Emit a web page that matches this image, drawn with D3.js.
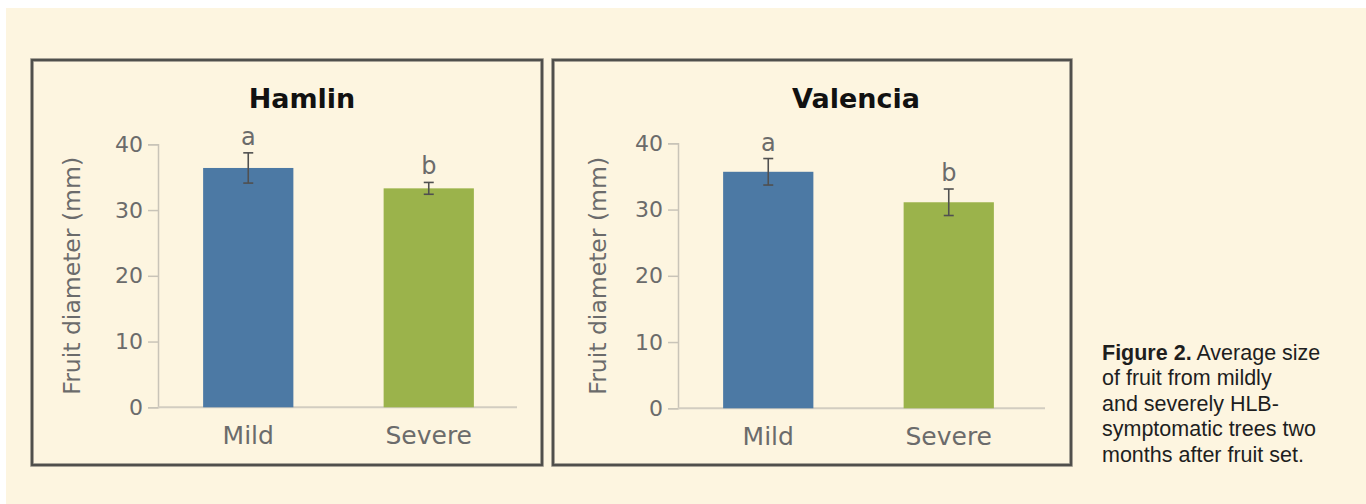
<!DOCTYPE html>
<html>
<head>
<meta charset="utf-8">
<script src="https://cdn.jsdelivr.net/npm/d3@7"></script>
<style>
  body { margin: 0; background: #fff; }
  #vis { width: 1366px; height: 504px; }
</style>
</head>
<body>
<div id="vis"></div>
<script>
const W = 1366, H = 504;

// data
const cultivars = ['Hamlin', 'Valencia'];
const categories = ['Mild', 'Severe'];
const hamlinMeans = [36.4, 33.3];
const hamlinErrors = [2.3, 0.9];
const valenciaMeans = [35.7, 31.1];
const valenciaErrors = [2.0, 2.0];
const letters = ['a', 'b'];
const yTicks = [0, 10, 20, 30, 40];
const yLabel = 'Fruit diameter (mm)';
const captionBold = 'Figure 2.';
const captionLines = [' Average size', 'of fruit from mildly', 'and severely HLB-', 'symptomatic trees two', 'months after fruit set.'];

const barColors = ['#4c79a4', '#9bb34b'];

// panel layout (pixels)
const panels = [
    { name: cultivars[0], means: hamlinMeans, errors: hamlinErrors,
      frame: [32, 60, 542, 465], axisX: 158, axisEnd: 517, y0: 407.3, y40: 144.3,
      titleX: 302, labelX: 72 },
    { name: cultivars[1], means: valenciaMeans, errors: valenciaErrors,
      frame: [553, 60, 1071, 465], axisX: 678, axisEnd: 1045, y0: 408.3, y40: 143.3,
      titleX: 856, labelX: 598 }
];

const svg = d3.select('#vis')
    .append('svg')
    .attr('width', W)
    .attr('height', H)
    .style('font-family', '"DejaVu Sans", sans-serif');

// cream page (white strip on top and left like the scan)
svg.append('rect')
    .attr('x', 6).attr('y', 8)
    .attr('width', W - 6).attr('height', H - 8)
    .attr('fill', '#fdf5e0');

function drawPanel(p){
    const g = svg.append('g');

    // frame
    g.append('rect')
        .attr('x', p.frame[0]).attr('y', p.frame[1])
        .attr('width', p.frame[2] - p.frame[0])
        .attr('height', p.frame[3] - p.frame[1])
        .attr('fill', 'none')
        .attr('stroke', '#8a877f')
        .attr('stroke-width', 3.5);
    g.append('rect')
        .attr('x', p.frame[0]).attr('y', p.frame[1])
        .attr('width', p.frame[2] - p.frame[0])
        .attr('height', p.frame[3] - p.frame[1])
        .attr('fill', 'none')
        .attr('stroke', '#4a4a47')
        .attr('stroke-width', 1.8);

    const xScale = d3.scaleBand()
        .domain(categories)
        .range([p.axisX, p.axisX + 361])
        .paddingInner(0.5)
        .paddingOuter(0.25);

    const yScale = d3.scaleLinear()
        .domain([0, 40])
        .range([p.y0, p.y40]);

    // y axis
    const yAxis = g.append('g')
        .attr('transform', `translate(${p.axisX},0)`)
        .call(d3.axisLeft(yScale).tickValues(yTicks).tickSize(10).tickPadding(5));
    yAxis.select('.domain').attr('stroke', '#c9c4b8').attr('stroke-width', 1.5);
    yAxis.selectAll('.tick line').attr('stroke', '#c9c4b8').attr('stroke-width', 1.5);
    yAxis.selectAll('.tick text')
        .attr('fill', '#6b6b6b')
        .style('font-size', '22px')
        .style('font-family', '"DejaVu Sans", sans-serif');

    // x axis baseline
    g.append('line')
        .attr('x1', p.axisX).attr('x2', p.axisEnd)
        .attr('y1', yScale(0)).attr('y2', yScale(0))
        .attr('stroke', '#d2cdc1')
        .attr('stroke-width', 2);

    // bars
    g.selectAll('.bar')
        .data(categories)
        .join('rect')
        .attr('class', 'bar')
        .attr('x', d => xScale(d))
        .attr('width', xScale.bandwidth())
        .attr('y', (d, i) => yScale(p.means[i]))
        .attr('height', (d, i) => yScale(0) - yScale(p.means[i]))
        .attr('fill', (d, i) => barColors[i]);

    // error bars
    const cx = d => xScale(d) + xScale.bandwidth() / 2;
    const err = g.selectAll('.err')
        .data(categories)
        .join('g')
        .attr('class', 'err')
        .attr('stroke', '#505050')
        .attr('stroke-width', 1.6);
    err.append('line')
        .attr('x1', cx).attr('x2', cx)
        .attr('y1', (d, i) => yScale(p.means[i] + p.errors[i]))
        .attr('y2', (d, i) => yScale(p.means[i] - p.errors[i]));
    err.append('line')
        .attr('x1', d => cx(d) - 5).attr('x2', d => cx(d) + 5)
        .attr('y1', (d, i) => yScale(p.means[i] + p.errors[i]))
        .attr('y2', (d, i) => yScale(p.means[i] + p.errors[i]));
    err.append('line')
        .attr('x1', d => cx(d) - 5).attr('x2', d => cx(d) + 5)
        .attr('y1', (d, i) => yScale(p.means[i] - p.errors[i]))
        .attr('y2', (d, i) => yScale(p.means[i] - p.errors[i]));

    // significance letters
    g.selectAll('.letter')
        .data(categories)
        .join('text')
        .attr('class', 'letter')
        .attr('x', cx)
        .attr('y', (d, i) => yScale(p.means[i] + p.errors[i]) - 8)
        .attr('text-anchor', 'middle')
        .attr('fill', '#6b6b6b')
        .style('font-size', '24px')
        .text((d, i) => letters[i]);

    // category labels
    g.selectAll('.cat')
        .data(categories)
        .join('text')
        .attr('class', 'cat')
        .attr('x', cx)
        .attr('y', p.y0 + 37)
        .attr('text-anchor', 'middle')
        .attr('fill', '#6b6b6b')
        .style('font-size', '25px')
        .text(d => d);

    // y label
    g.append('text')
        .attr('transform', `translate(${p.labelX},${(p.y0 + p.y40) / 2}) rotate(-90)`)
        .attr('text-anchor', 'middle')
        .attr('dy', '0.35em')
        .attr('fill', '#6b6b6b')
        .style('font-size', '23.5px')
        .text(yLabel);

    // title
    g.append('text')
        .attr('x', p.titleX)
        .attr('y', 108)
        .attr('text-anchor', 'middle')
        .attr('fill', '#111')
        .style('font-size', '27px')
        .style('font-weight', 'bold')
        .text(p.name);
}

function drawCaption(){
    const cap = svg.append('text')
        .attr('x', 1102)
        .attr('y', 360)
        .attr('fill', '#1e1e1e')
        .style('font-family', '"Liberation Sans", Arial, sans-serif')
        .style('font-size', '21.5px');
    cap.append('tspan')
        .style('font-weight', 'bold')
        .text(captionBold);
    captionLines.forEach((line, i) => {
        const t = cap.append('tspan').text(line);
        if (i > 0) t.attr('x', 1102).attr('dy', 25.4);
    });
}

panels.forEach(drawPanel);
drawCaption();
</script>
</body>
</html>
